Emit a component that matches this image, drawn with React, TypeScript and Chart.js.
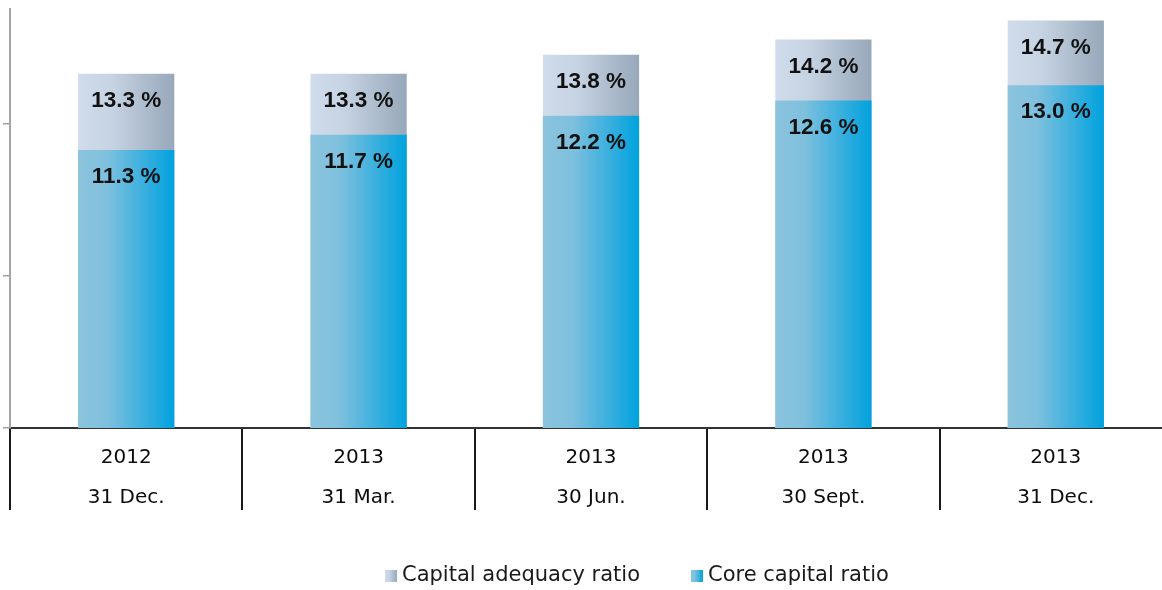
import React, { useEffect, useRef } from "react";
import { Chart, registerables } from "chart.js";

Chart.register(...registerables);

// ---- data ----
const years = ["2012", "2013", "2013", "2013", "2013"];
const dates = ["31 Dec.", "31 Mar.", "30 Jun.", "30 Sept.", "31 Dec."];
const capitalAdequacy = [13.3, 13.3, 13.8, 14.2, 14.7];
const coreCapital = [11.3, 11.7, 12.2, 12.6, 13.0];
const seriesNames = ["Capital adequacy ratio", "Core capital ratio"];
const yTicks = [4, 8, 12];
const yMin = 4;
const yMax = 15;

// ---- style ----
const BAR_PCT = 0.414;
const CORE_STOPS: [number, string][] = [
  [0, "#8bc3dc"],
  [0.3, "#7fc0de"],
  [1, "#00a2de"],
];
const ADEQ_STOPS: [number, string][] = [
  [0, "#d0dcec"],
  [0.35, "#c6d3e3"],
  [1, "#97a8ba"],
];
const AXIS_FONT = '"DejaVu Sans", Verdana, sans-serif';
const LABEL_FONT = 'Arial, "Liberation Sans", Helvetica, sans-serif';

function barGradient(ctx: any, stops: [number, string][]) {
  const chart = ctx.chart;
  const xs = chart.scales && chart.scales.x;
  if (!xs || ctx.type !== "data" || !xs.width) return stops[stops.length - 1][1];
  const cx = xs.getPixelForValue(ctx.dataIndex);
  const w = (xs.width / years.length) * BAR_PCT;
  const g = chart.ctx.createLinearGradient(cx - w / 2, 0, cx + w / 2, 0);
  stops.forEach(([o, c]) => g.addColorStop(o, c));
  return g;
}

function boxGradient(c: CanvasRenderingContext2D, x: number, w: number, stops: [number, string][]) {
  const g = c.createLinearGradient(x, 0, x + w, 0);
  stops.forEach(([o, col]) => g.addColorStop(o, col));
  return g;
}

const valueLabels = {
  id: "valueLabels",
  afterDatasetsDraw(chart: any) {
    const c: CanvasRenderingContext2D = chart.ctx;
    c.save();
    c.font = `bold 22.5px ${LABEL_FONT}`;
    c.fillStyle = "#111111";
    c.textAlign = "center";
    c.textBaseline = "middle";
    chart.data.datasets.forEach((ds: any, i: number) => {
      const meta = chart.getDatasetMeta(i);
      meta.data.forEach((el: any, j: number) => {
        const v = ds.data[j];
        c.fillText(`${v.toFixed(1)} %`, el.x, el.y + 27);
      });
    });
    c.restore();
  },
};

const customLegend = {
  id: "customLegend",
  afterDraw(chart: any) {
    const c: CanvasRenderingContext2D = chart.ctx;
    const items = [
      { name: seriesNames[0], stops: ADEQ_STOPS, x: 385 },
      { name: seriesNames[1], stops: CORE_STOPS, x: 691 },
    ];
    const cy = 576;
    const box = 12;
    c.save();
    c.font = `21px ${AXIS_FONT}`;
    c.textBaseline = "middle";
    c.textAlign = "left";
    items.forEach((it) => {
      c.fillStyle = boxGradient(c, it.x, box, it.stops);
      c.fillRect(it.x, cy - box / 2, box, box);
      c.fillStyle = "#1a1a1a";
      c.fillText(it.name, it.x + 17, cy);
    });
    c.restore();
  },
};

export default function App() {
  const ref = useRef<HTMLCanvasElement>(null);

  useEffect(() => {
    if (!ref.current) return;
    const labels = years.map((y, i) => [y, dates[i]]);
    const chart = new Chart(ref.current, {
      type: "bar",
      data: {
        labels,
        datasets: [
          {
            label: seriesNames[1],
            data: coreCapital,
            backgroundColor: (ctx: any) => barGradient(ctx, CORE_STOPS),
            barPercentage: BAR_PCT,
            categoryPercentage: 1,
            borderWidth: 0,
          },
          {
            label: seriesNames[0],
            data: capitalAdequacy,
            backgroundColor: (ctx: any) => barGradient(ctx, ADEQ_STOPS),
            barPercentage: BAR_PCT,
            categoryPercentage: 1,
            borderWidth: 0,
          },
        ],
      },
      options: {
        responsive: false,
        animation: false,
        layout: { padding: { left: 3, top: 9, right: 0, bottom: 72 } },
        plugins: {
          legend: { display: false },
          tooltip: { enabled: false },
        },
        scales: {
          x: {
            stacked: true,
            afterFit: (s: any) => {
              s.height = 90;
            },
            grid: {
              offset: true,
              drawOnChartArea: false,
              tickLength: 82,
              color: "#1a1a1a",
              lineWidth: 2,
            },
            border: { color: "#333333", width: 2 },
            ticks: {
              padding: -72,
              color: "#0d0d0d",
              maxRotation: 0,
              autoSkip: false,
              font: { family: AXIS_FONT, size: 20, lineHeight: 2 },
            },
          },
          y: {
            stacked: false,
            min: yMin,
            max: yMax,
            afterBuildTicks: (s: any) => {
              s.ticks = yTicks.map((v) => ({ value: v }));
            },
            ticks: { display: false },
            grid: {
              drawOnChartArea: false,
              tickLength: 7,
              color: "#a0a0a0",
              lineWidth: 1.5,
            },
            border: { color: "#a6a6a6", width: 2 },
          },
        },
      },
      plugins: [valueLabels, customLegend],
    } as any);
    return () => chart.destroy();
  }, []);

  return (
    <div
      style={{
        position: "absolute",
        left: 0,
        top: 0,
        width: 1162,
        height: 590,
        overflow: "hidden",
        background: "#ffffff",
      }}
    >
      <canvas ref={ref} width={1172} height={590} style={{ display: "block" }} />
    </div>
  );
}
